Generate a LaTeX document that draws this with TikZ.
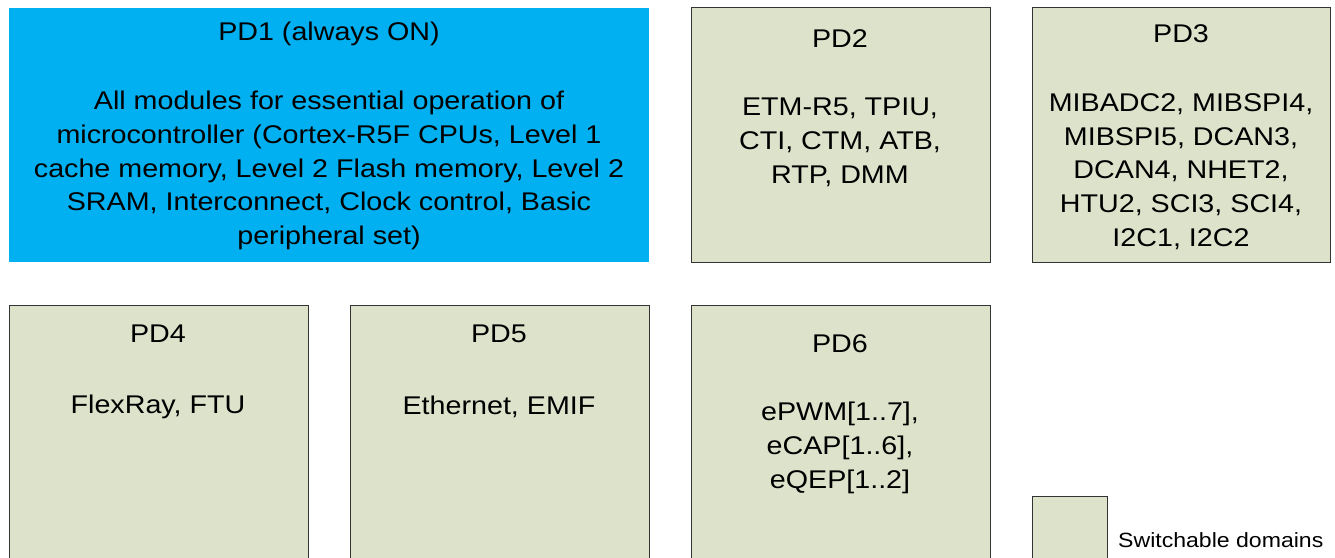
\documentclass[tikz,border=0pt]{standalone}
\usepackage{fontspec}
\setmainfont{Liberation Sans}[FakeStretch=1.12]
\definecolor{swgreen}{HTML}{DDE2CB}
\definecolor{aon}{HTML}{00B0F0}
\definecolor{edge}{HTML}{333333}
\begin{document}
\begin{tikzpicture}[x=1pt,y=-1pt,
  dom/.style={draw=edge, line width=1.3pt, fill=swgreen, inner sep=0pt, anchor=north west},
  lbl/.style={font=\fontsize{25.6}{33.7}\selectfont, align=center, inner sep=0pt, text=black},
  leg/.style={font=\fontsize{20.6}{24}\selectfont, inner sep=0pt, anchor=west},
]
\useasboundingbox (0,0) rectangle (1335,557);
\clip (0,0) rectangle (1335,557);
\fill[white] (0,0) rectangle (1335,557);

% boxes
\node[fill=aon, inner sep=0pt, anchor=north west, minimum width=640pt, minimum height=254pt] (pd1) at (9,8) {};
\node[dom, minimum width=299pt, minimum height=255pt] (pd2) at (691,7) {};
\node[dom, minimum width=298pt, minimum height=255pt] (pd3) at (1032,7) {};
\node[dom, minimum width=299pt, minimum height=270pt] (pd4) at (9,305) {};
\node[dom, minimum width=299pt, minimum height=270pt] (pd5) at (350,305) {};
\node[dom, minimum width=299pt, minimum height=270pt] (pd6) at (691,305) {};
\node[dom, minimum width=75pt, minimum height=80pt] (legbox) at (1032,496) {};

% texts
\node[lbl] (t1) at (329,34) {PD1 (always ON)};
\node[lbl] (c1) at (329,170.5) {All modules for essential operation of\\microcontroller (Cortex-R5F CPUs, Level 1\\cache memory, Level 2 Flash memory, Level 2\\SRAM, Interconnect, Clock control, Basic\\peripheral set)};
\node[lbl] (t2) at (840,39) {PD2};
\node[lbl] (c2) at (840,142.5) {ETM-R5, TPIU,\\CTI, CTM, ATB,\\RTP, DMM};
\node[lbl] (t3) at (1181,33.5) {PD3};
\node[lbl] (c3) at (1181,171.5) {MIBADC2, MIBSPI4,\\MIBSPI5, DCAN3,\\DCAN4, NHET2,\\HTU2, SCI3, SCI4,\\I2C1, I2C2};
\node[lbl] (t4) at (158,334) {PD4};
\node[lbl] (c4) at (158,406.5) {FlexRay, FTU};
\node[lbl] (t5) at (499,334) {PD5};
\node[lbl] (c5) at (499,406.5) {Ethernet, EMIF};
\node[lbl] (t6) at (840,344) {PD6};
\node[lbl] (c6) at (840,448) {ePWM[1..7],\\eCAP[1..6],\\eQEP[1..2]};
\node[leg] (legtext) at (1118,540) {Switchable domains};
\end{tikzpicture}
\end{document}
